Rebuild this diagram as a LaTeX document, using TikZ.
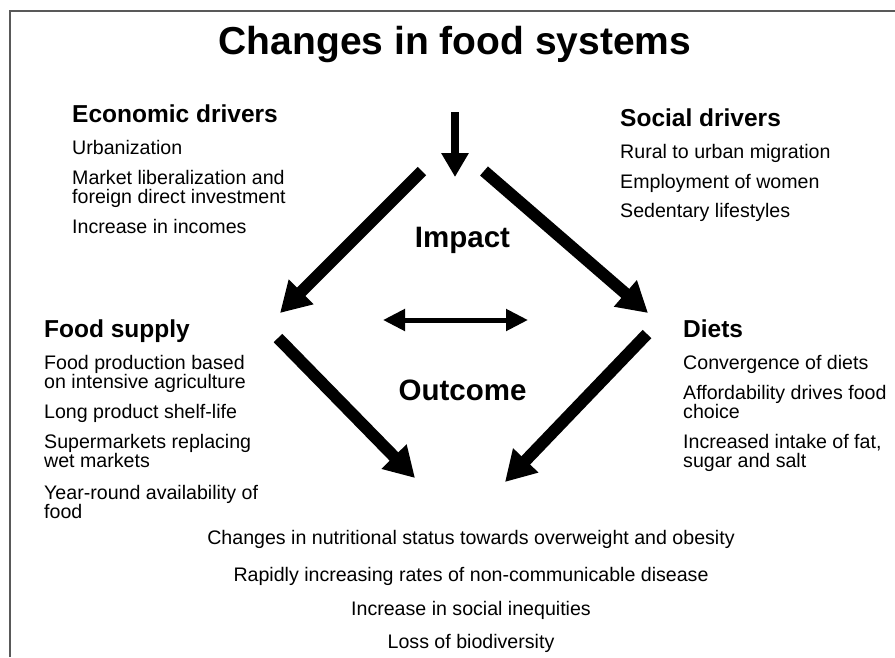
\documentclass[tikz,border=0pt]{standalone}
\usepackage{fontspec}
\setmainfont{Liberation Sans}
\usetikzlibrary{arrows.meta}
\begin{document}
\begin{tikzpicture}[x=1pt,y=-1pt,
  titletext/.style={font=\fontsize{39}{40}\selectfont\bfseries, anchor=base, inner sep=0pt},
  headtext/.style={font=\fontsize{24.5}{26}\selectfont\bfseries, anchor=base west, inner sep=0pt},
  itemtext/.style={font=\fontsize{19.6}{20}\selectfont, anchor=base west, inner sep=0pt},
  midtext/.style={font=\fontsize{29.5}{30}\selectfont\bfseries, anchor=base, inner sep=0pt},
  outtext/.style={font=\fontsize{19.6}{20}\selectfont, anchor=base, inner sep=0pt},
  frameline/.style={draw=black!65, line width=1.6pt},
  bigarrow/.style={line width=12pt, -{Triangle[length=30pt,width=33pt]}},
  downarrow/.style={line width=8pt, -{Triangle[length=24pt,width=26pt]}},
  twoarrow/.style={line width=5pt, {Triangle[length=22pt,width=21pt]}-{Triangle[length=22pt,width=21pt]}}
]
\useasboundingbox (0,0) rectangle (895,657);
\draw[frameline] (10,657) -- (10,11) -- (895,11);

% title
\node[titletext] (title) at (455,54) {Changes in food systems};

% economic drivers
\node[headtext] (eco) at (72,122) {Economic drivers};
\node[itemtext] (eco1) at (72,154) {Urbanization};
\node[itemtext] (eco2a) at (72,184) {Market liberalization and};
\node[itemtext] (eco2b) at (72,203.5) {foreign direct investment};
\node[itemtext] (eco3) at (72,233) {Increase in incomes};

% social drivers
\node[headtext] (soc) at (620,126) {Social drivers};
\node[itemtext] (soc1) at (620,158) {Rural to urban migration};
\node[itemtext] (soc2) at (620,188) {Employment of women};
\node[itemtext] (soc3) at (620,217.5) {Sedentary lifestyles};

% food supply
\node[headtext] (food) at (44,337) {Food supply};
\node[itemtext] (food1a) at (44,369) {Food production based};
\node[itemtext] (food1b) at (44,388.5) {on intensive agriculture};
\node[itemtext] (food2) at (44,418) {Long product shelf-life};
\node[itemtext] (food3a) at (44,448) {Supermarkets replacing};
\node[itemtext] (food3b) at (44,467.5) {wet markets};
\node[itemtext] (food4a) at (44,499) {Year-round availability of};
\node[itemtext] (food4b) at (44,518.5) {food};

% diets
\node[headtext] (diet) at (683,337) {Diets};
\node[itemtext] (diet1) at (683,369) {Convergence of diets};
\node[itemtext] (diet2a) at (683,399) {Affordability drives food};
\node[itemtext] (diet2b) at (683,418.5) {choice};
\node[itemtext] (diet3a) at (683,448) {Increased intake of fat,};
\node[itemtext] (diet3b) at (683,467.5) {sugar and salt};

% centre labels
\node[midtext] (impact) at (462.5,247) {Impact};
\node[midtext] (outcome) at (462.5,400) {Outcome};

% outcomes
\node[outtext] (out1) at (471,544) {Changes in nutritional status towards overweight and obesity};
\node[outtext] (out2) at (471,581) {Rapidly increasing rates of non-communicable disease};
\node[outtext] (out3) at (471,615) {Increase in social inequities};
\node[outtext] (out4) at (471,648) {Loss of biodiversity};

% arrow end points
\coordinate (dtop) at (455,112);
\coordinate (dtip) at (455,177);
\coordinate (ulstart) at (422,171);
\coordinate (ultip) at (280,313);
\coordinate (urstart) at (484,171);
\coordinate (urtip) at (648,313);
\coordinate (llstart) at (278,338);
\coordinate (lltip) at (415,478);
\coordinate (lrstart) at (647,334);
\coordinate (lrtip) at (505,482);
\coordinate (hl) at (383,320);
\coordinate (hr) at (528,320);

\draw[downarrow] (dtop) -- (dtip);
\draw[bigarrow] (ulstart) -- (ultip);
\draw[bigarrow] (urstart) -- (urtip);
\draw[bigarrow] (llstart) -- (lltip);
\draw[bigarrow] (lrstart) -- (lrtip);
\draw[twoarrow] (hl) -- (hr);
\end{tikzpicture}
\end{document}
